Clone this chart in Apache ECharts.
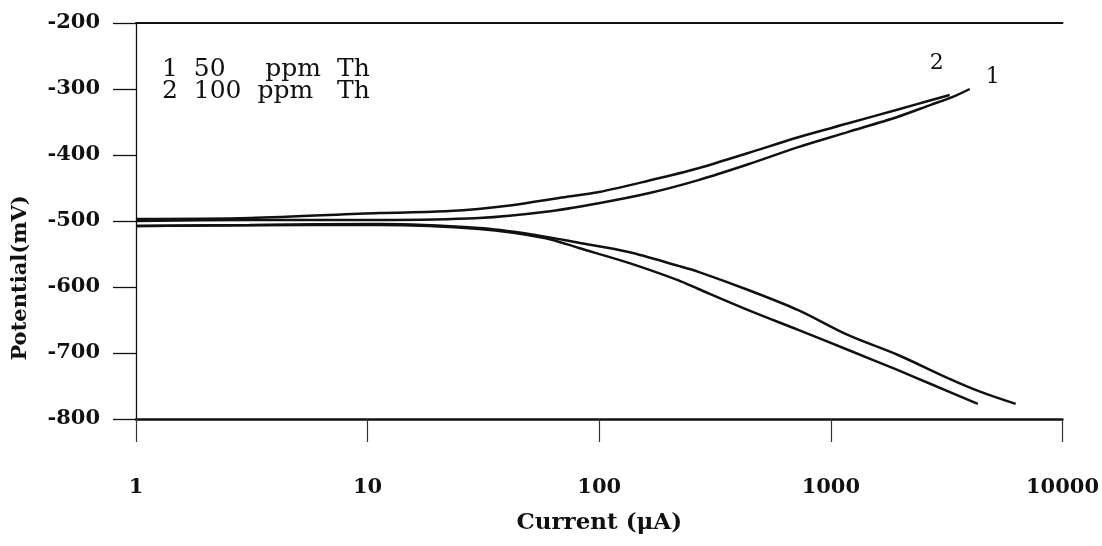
<!DOCTYPE html>
<html>
<head>
<meta charset="utf-8">
<script src="https://cdn.jsdelivr.net/npm/echarts@6/dist/echarts.min.js"></script>
<style>
  html, body { margin: 0; padding: 0; background: #ffffff; }
  #chart { width: 1102px; height: 546px; }
</style>
</head>
<body>
<div id="chart"></div>
<script>
// Tafel polarization curves: [current (µA), potential (mV)]
const curve1Anodic = [
  [1, -500], [3.1, -498.5], [11.2, -498.5], [30.3, -495.5], [58.8, -486],
  [99.5, -473], [163, -458], [268, -438], [440, -414], [723, -388],
  [1190, -365], [1950, -342], [2700, -324], [3360, -312], [3980, -300]
];
const curve1Cathodic = [
  [1, -507.5], [3.1, -506], [11.2, -504.5], [30.3, -510.5], [49.7, -519.5],
  [81.6, -533], [134, -547], [220, -568], [268, -577], [440, -604.5],
  [723, -635], [1190, -673], [1950, -703], [3200, -738], [4440, -759], [6280, -777]
];
const curve2Anodic = [
  [1, -497], [3.1, -495.5], [11.2, -488], [22.5, -485], [42, -476],
  [67, -465], [100, -456], [163, -439], [268, -420], [440, -397],
  [723, -373], [1190, -352], [1950, -331], [2700, -317], [3260, -309]
];
const curve2Cathodic = [
  [1, -507.5], [3.1, -506.5], [11.2, -506], [30.3, -512], [58.8, -526],
  [81.6, -541], [134, -563.5], [220, -590], [268, -603], [440, -635],
  [723, -665], [1190, -695.5], [1950, -726], [2700, -747], [4310, -777]
];

const curveTags = ['1', '2'];
const legendLines = ['1  50     ppm  Th', '2  100  ppm   Th'];
const xTitle = 'Current (\u03bcA)';
const yTitle = 'Potential(mV)';

const serif = 'DejaVu Serif';
const ink = '#111111';

const chart = echarts.init(document.getElementById('chart'), null, { renderer: 'canvas' });

function branch(name, data, tag, offset) {
  const s = {
    name: name,
    type: 'line',
    xAxisIndex: 0,
    yAxisIndex: 0,
    data: data,
    smooth: 0.3,
    showSymbol: false,
    symbol: 'none',
    lineStyle: { color: ink, width: 2.5 },
    z: 3
  };
  if (tag) {
    s.endLabel = {
      show: true,
      formatter: tag,
      offset: offset,
      color: ink,
      fontFamily: serif,
      fontSize: 22
    };
  }
  return s;
}

const option = {
  backgroundColor: '#ffffff',
  animation: false,
  grid: { left: 136, right: 37, top: 23, bottom: 127, containLabel: false },
  xAxis: [
    {
      type: 'log',
      logBase: 10,
      min: 1,
      max: 10000,
      position: 'bottom',
      name: xTitle,
      nameLocation: 'middle',
      nameGap: 93,
      nameTextStyle: { fontFamily: serif, fontWeight: 'bold', fontSize: 23, color: ink },
      axisLine: { show: true, lineStyle: { color: ink, width: 2.5 } },
      axisTick: { show: true, length: 23, lineStyle: { color: '#333333', width: 1.2 } },
      minorTick: { show: false },
      axisLabel: {
        margin: 58,
        fontFamily: serif,
        fontWeight: 'bold',
        fontSize: 21,
        color: ink,
        formatter: function (v) { return String(Math.round(v)); }
      },
      splitLine: { show: false }
    },
    {
      type: 'log',
      logBase: 10,
      min: 1,
      max: 10000,
      position: 'top',
      axisLine: { show: true, lineStyle: { color: ink, width: 2 } },
      axisTick: { show: false },
      axisLabel: { show: false },
      splitLine: { show: false }
    }
  ],
  yAxis: {
    type: 'value',
    min: -800,
    max: -200,
    interval: 100,
    axisLine: { show: true, onZero: false, lineStyle: { color: ink, width: 1.3 } },
    axisTick: { show: true, length: 23, lineStyle: { color: ink, width: 1.3 } },
    axisLabel: {
      margin: 36,
      fontFamily: serif,
      fontWeight: 'bold',
      fontSize: 21,
      color: ink
    },
    splitLine: { show: false }
  },
  graphic: [
    {
      type: 'text',
      left: 162,
      top: 57,
      style: {
        text: legendLines[0],
        fontFamily: serif,
        fontSize: 25,
        fill: ink
      }
    },
    {
      type: 'text',
      left: 162,
      top: 79,
      style: {
        text: legendLines[1],
        fontFamily: serif,
        fontSize: 25,
        fill: ink
      }
    },
    {
      type: 'text',
      x: 21,
      y: 278,
      rotation: Math.PI / 2,
      style: {
        text: yTitle,
        fontFamily: serif,
        fontWeight: 'bold',
        fontSize: 21,
        fill: ink,
        align: 'center',
        verticalAlign: 'middle'
      }
    }
  ],
  series: [
    branch('50 ppm Th anodic', curve1Anodic, curveTags[0], [8, -12]),
    branch('50 ppm Th cathodic', curve1Cathodic),
    branch('100 ppm Th anodic', curve2Anodic, curveTags[1], [-28, -32]),
    branch('100 ppm Th cathodic', curve2Cathodic)
  ]
};

chart.setOption(option);
</script>
</body>
</html>
